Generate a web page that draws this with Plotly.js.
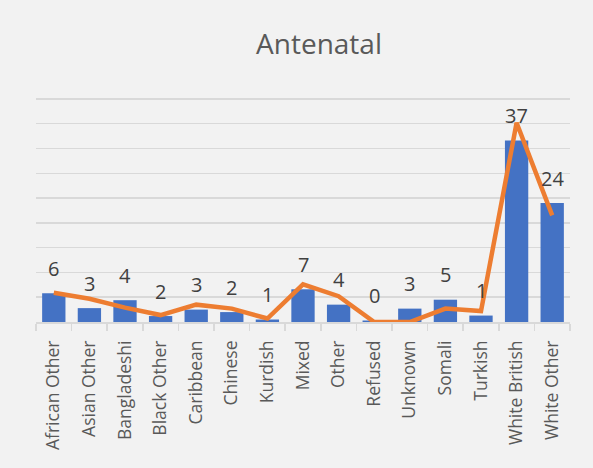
<!DOCTYPE html>
<html>
<head>
<meta charset="utf-8">
<script src="https://cdn.plot.ly/plotly-3.0.1.min.js"></script>
<style>
html,body{margin:0;padding:0;background:#f2f2f2;}
#chart{width:593px;height:468px;}
</style>
</head>
<body>
<div id="chart"></div>
<script>
const categories = ["African Other","Asian Other","Bangladeshi","Black Other","Caribbean","Chinese","Kurdish","Mixed","Other","Refused","Unknown","Somali","Turkish","White British","White Other"];
const barValues = [5.8, 2.8, 4.4, 1.2, 2.5, 2.0, 0.5, 6.6, 3.5, 0.3, 2.7, 4.5, 1.3, 36.6, 24.0];
const barLabels = ["6","3","4","2","3","2","1","7","4","0","3","5","1","37","24"];
const lineValues = [5.9, 4.7, 2.9, 1.4, 3.5, 2.7, 0.7, 7.6, 5.2, 0, 0, 2.7, 2.2, 40.2, 21.5];

const bars = {
  type: 'bar', x: categories, y: barValues,
  marker: {color: '#4472c4'}, hoverinfo: 'none', showlegend: false
};
const line = {
  type: 'scatter', mode: 'lines', x: categories, y: lineValues,
  line: {color: '#ed7d31', width: 4.5}, cliponaxis: false, hoverinfo: 'none', showlegend: false
};
const annotations = categories.map((c, i) => ({
  x: c, y: barValues[i], text: barLabels[i], showarrow: false,
  yshift: 25, font: {family: 'Open Sans', size: 20, color: '#404040'}
}));

const layout = {
  width: 593, height: 468,
  paper_bgcolor: '#f2f2f2', plot_bgcolor: '#f2f2f2',
  margin: {l: 36, r: 23, t: 94, b: 145.5},
  bargap: 0.345,
  title: {text: 'Antenatal', font: {family: 'Open Sans', size: 28, color: '#595959'},
          xref: 'container', x: 0.538, xanchor: 'center', yref: 'container', y: 0.906, yanchor: 'middle'},
  xaxis: {
    type: 'category', tickangle: -90, showgrid: false,
    showline: true, linecolor: '#d9d9d9', linewidth: 1.5,
    ticks: 'outside', tickson: 'boundaries', ticklen: 7, tickcolor: '#d9d9d9', tickwidth: 1.5,
    ticklabelstandoff: 10,
    tickfont: {family: 'Open Sans', size: 17.5, color: '#595959'}
  },
  yaxis: {
    range: [0, 46], tickvals: [5,10,15,20,25,30,35,40,45], showticklabels: false, zeroline: false,
    gridcolor: '#d9d9d9', gridwidth: 1.5, fixedrange: true
  },
  annotations: annotations
};
Plotly.newPlot('chart', [bars, line], layout, {displayModeBar: false, staticPlot: true});
</script>
</body>
</html>
